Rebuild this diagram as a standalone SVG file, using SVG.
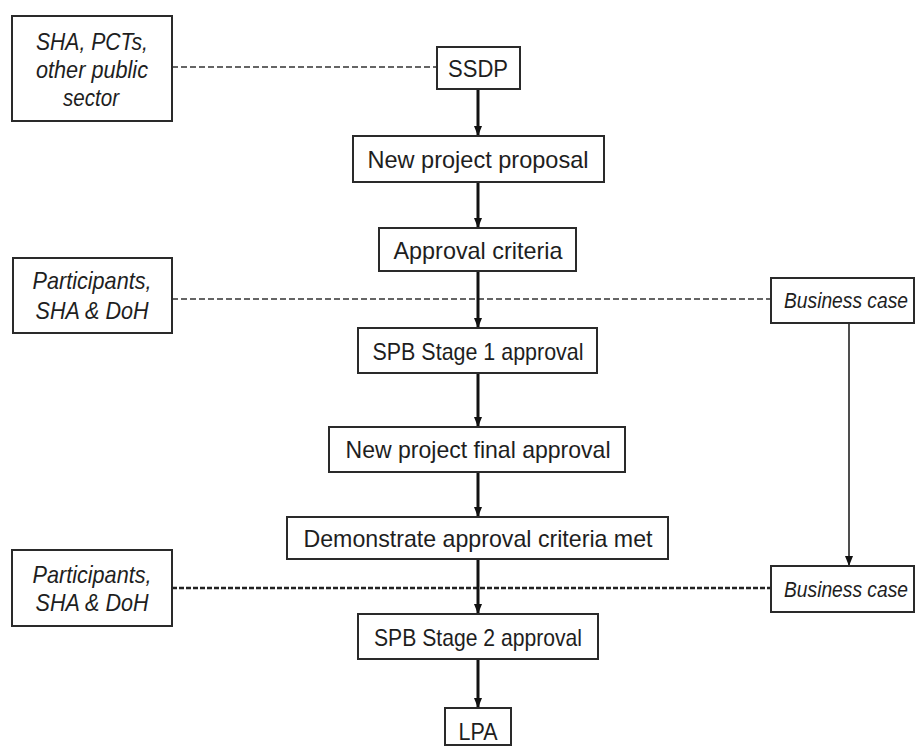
<svg xmlns="http://www.w3.org/2000/svg" width="917" height="746" viewBox="0 0 917 746">
<style>
.box{fill:#fff;stroke:#2a2a2a;stroke-width:2}
.t{font-family:"Liberation Sans",Arial,sans-serif;font-size:24px;fill:#1e1e1e;text-anchor:middle}
.i{font-style:italic}
.bc{font-size:22px}
.flow{stroke:#111;stroke-width:3;fill:none}
.thin{stroke:#222;stroke-width:1.6;fill:none}
.dash1{stroke:#333;stroke-width:1.5;stroke-dasharray:6 3;fill:none}
.dash2{stroke:#222;stroke-width:2.6;stroke-dasharray:5 2;fill:none}
</style>
<defs>
<marker id="ah" markerUnits="userSpaceOnUse" markerWidth="12" markerHeight="12" refX="10" refY="5" orient="auto">
<path d="M0,1 L10,5 L0,9 Z" fill="#111"/>
</marker>
</defs>
<rect width="917" height="746" fill="#fff"/>
<g id="connectors">
<line class="dash1" x1="172" y1="67" x2="437" y2="67"/>
<line class="dash1" x1="172" y1="299" x2="771" y2="299"/>
<line class="dash2" x1="172" y1="588" x2="771" y2="588"/>
<line class="flow" x1="478" y1="89" x2="478" y2="136" marker-end="url(#ah)"/>
<line class="flow" x1="478" y1="182" x2="478" y2="228" marker-end="url(#ah)"/>
<line class="flow" x1="478" y1="271" x2="478" y2="328" marker-end="url(#ah)"/>
<line class="flow" x1="478" y1="373" x2="478" y2="427" marker-end="url(#ah)"/>
<line class="flow" x1="478" y1="472" x2="478" y2="517" marker-end="url(#ah)"/>
<line class="flow" x1="478" y1="559" x2="478" y2="614" marker-end="url(#ah)"/>
<line class="flow" x1="478" y1="659" x2="478" y2="708" marker-end="url(#ah)"/>
<line class="thin" x1="849" y1="323" x2="849" y2="566" marker-end="url(#ah)"/>
</g>
<g id="sha">
<rect class="box" x="12" y="16" width="160" height="105"/>
<text class="t i" x="92" y="50" textLength="112" lengthAdjust="spacingAndGlyphs">SHA, PCTs,</text>
<text class="t i" x="92" y="78" textLength="112" lengthAdjust="spacingAndGlyphs">other public</text>
<text class="t i" x="91" y="106" textLength="56" lengthAdjust="spacingAndGlyphs">sector</text>
</g>
<g id="ssdp">
<rect class="box" x="437" y="47" width="83" height="42"/>
<text class="t" x="478" y="77" textLength="60" lengthAdjust="spacingAndGlyphs" fill="#333">SSDP</text>
</g>
<g id="npp">
<rect class="box" x="353" y="136" width="251" height="46"/>
<text class="t" x="478" y="168" textLength="221" lengthAdjust="spacingAndGlyphs">New project proposal</text>
</g>
<g id="ac">
<rect class="box" x="379" y="228" width="197" height="43"/>
<text class="t" x="478" y="259" textLength="169" lengthAdjust="spacingAndGlyphs">Approval criteria</text>
</g>
<g id="part1">
<rect class="box" x="13" y="258" width="159" height="75"/>
<text class="t i" x="92" y="289" textLength="119" lengthAdjust="spacingAndGlyphs">Participants,</text>
<text class="t i" x="92" y="319" textLength="113" lengthAdjust="spacingAndGlyphs">SHA &amp; DoH</text>
</g>
<g id="bc1">
<rect class="box" x="771" y="278" width="143" height="45"/>
<text class="t i bc" x="846" y="308" textLength="124" lengthAdjust="spacingAndGlyphs">Business case</text>
</g>
<g id="spb1">
<rect class="box" x="358" y="328" width="239" height="45"/>
<text class="t" x="478" y="360" textLength="211" lengthAdjust="spacingAndGlyphs">SPB Stage 1 approval</text>
</g>
<g id="npfa">
<rect class="box" x="329" y="427" width="296" height="45"/>
<text class="t" x="478" y="458" textLength="265" lengthAdjust="spacingAndGlyphs">New project final approval</text>
</g>
<g id="dem">
<rect class="box" x="287" y="517" width="381" height="42"/>
<text class="t" x="478" y="547" textLength="349" lengthAdjust="spacingAndGlyphs">Demonstrate approval criteria met</text>
</g>
<g id="part2">
<rect class="box" x="12" y="550" width="160" height="76"/>
<text class="t i" x="92" y="583" textLength="119" lengthAdjust="spacingAndGlyphs">Participants,</text>
<text class="t i" x="92" y="611" textLength="113" lengthAdjust="spacingAndGlyphs">SHA &amp; DoH</text>
</g>
<g id="bc2">
<rect class="box" x="771" y="566" width="143" height="46"/>
<text class="t i bc" x="846" y="597" textLength="124" lengthAdjust="spacingAndGlyphs">Business case</text>
</g>
<g id="spb2">
<rect class="box" x="358" y="614" width="240" height="45"/>
<text class="t" x="478" y="646" textLength="208" lengthAdjust="spacingAndGlyphs">SPB Stage 2 approval</text>
</g>
<g id="lpa">
<rect class="box" x="445" y="708" width="66" height="37"/>
<text class="t" x="478" y="740" textLength="39" lengthAdjust="spacingAndGlyphs">LPA</text>
</g>
</svg>
